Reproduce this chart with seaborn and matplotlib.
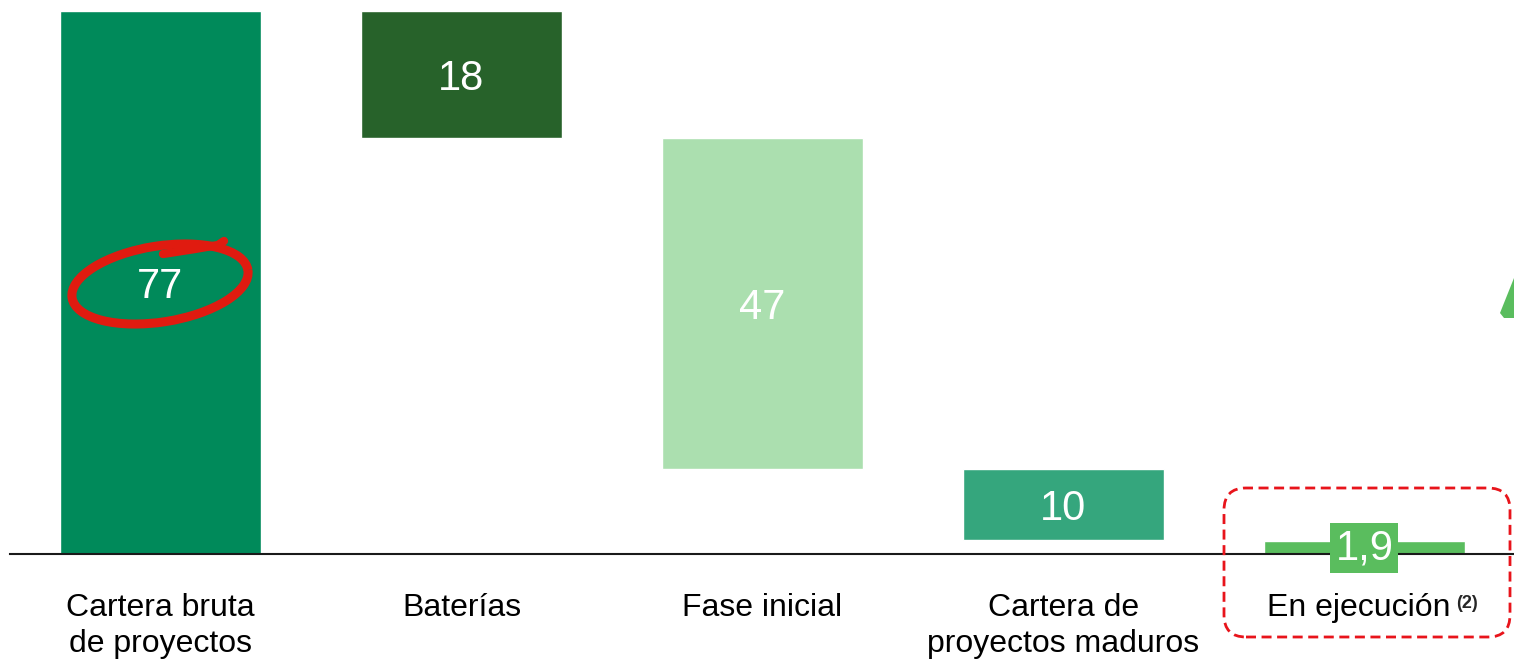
import matplotlib
matplotlib.use("Agg")
import matplotlib.pyplot as plt
import seaborn as sns
import pandas as pd
from matplotlib.patches import Arc, FancyBboxPatch, Polygon
from matplotlib.transforms import IdentityTransform, ScaledTranslation
from matplotlib.lines import Line2D

# ---- data ----
categories = ["Cartera bruta\nde proyectos", "Baterías", "Fase inicial",
              "Cartera de\nproyectos maduros", "En ejecución"]
values = [77, 18, 47, 10, 1.9]
value_labels = ["77", "18", "47", "10", "1,9"]
colors = ["#008A5A", "#27622A", "#ABDFAF", "#35A67D", "#5ABD5E"]

# waterfall bottoms: first and last bars start at 0, middle bars step down
total = values[0]
bottoms = [0]
level = total
for v in values[1:4]:
    level -= v
    bottoms.append(level)
bottoms.append(0)

df = pd.DataFrame({"cat": categories, "val": values})

sns.set_theme(style="white")
plt.rcParams["font.family"] = ["Liberation Sans", "DejaVu Sans"]

W, H = 1514, 661
fig = plt.figure(figsize=(W / 100, H / 100), dpi=100)
ax = fig.add_axes([10 / W, 107 / H, 1504 / W, 543 / H])

sns.barplot(data=df, x="cat", y="val", hue="cat", palette=colors,
            legend=False, width=0.668, ax=ax, saturation=1)
# shift bars to their waterfall bottoms
for patch, b in zip(ax.patches, bottoms):
    patch.set_y(b)

ax.set_xlim(-0.5, 4.497)
ax.set_ylim(0, total)
for s in ["top", "right", "left"]:
    ax.spines[s].set_visible(False)
ax.spines["bottom"].set_color("#1a1a1a")
ax.spines["bottom"].set_linewidth(1.5)
ax.spines["bottom"].set_zorder(1)
ax.set_yticks([])
ax.set_xlabel("")
ax.set_ylabel("")
ax.tick_params(axis="x", length=0, pad=28, labelsize=23, colors="black")
ticklabels = ax.get_xticklabels()
for lbl in ticklabels:
    lbl.set_linespacing(1.28)
# nudge the last label left to leave room for the superscript
last = ticklabels[-1]
last.set_transform(last.get_transform() + ScaledTranslation(-6 / 100, 0, fig.dpi_scale_trans))

# value labels
for i, (v, b, t) in enumerate(zip(values, bottoms, value_labels)):
    kw = dict(ha="center", va="center_baseline", color="white",
              fontsize=30, zorder=5)
    y = b + v / 2
    if i == 4:
        kw["bbox"] = dict(boxstyle="square,pad=0.12", fc=colors[i], ec="none")
        y = b + v * 0.75
    ax.text(i, y, t, **kw)

# superscript note
fig.text(1456 / W, 1 - 603 / H, "(2)", fontsize=13, fontweight="bold",
         ha="left", va="center")

ident = IdentityTransform()
# red hand-drawn circle around 77
ell = Arc((160, H - 284), 178, 76, angle=9, theta1=0, theta2=360,
          transform=ident, color="#E01B10", lw=6.5, zorder=6)
fig.add_artist(ell)
fig.add_artist(Line2D([163, 195, 218, 224], [H - 254, H - 249, H - 245, H - 241],
                      transform=ident, color="#E01B10", lw=6,
                      solid_capstyle="round", zorder=6))

# dashed highlight box
box = FancyBboxPatch((1224, H - 637), 286, 149,
                     boxstyle="round,pad=0,rounding_size=22",
                     transform=ident, fill=False, ec="#E8141B", lw=2,
                     ls=(0, (3.6, 2.0)), zorder=7)
fig.add_artist(box)

# partial green arrow at right edge
fig.add_artist(Polygon([(1500, H - 313), (1514, H - 278), (1514, H - 318),
                        (1504, H - 318)], closed=True, transform=ident,
                       fc="#5ABD5E", ec="none"))

fig.savefig("out.png", dpi=100)
